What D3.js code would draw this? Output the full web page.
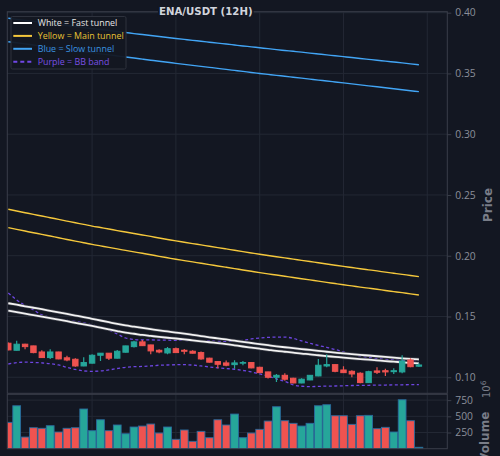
<!DOCTYPE html>
<html><head><meta charset="utf-8">
<script src="https://cdn.jsdelivr.net/npm/d3@7"></script>
<style>html,body{margin:0;padding:0;background:#131722;}svg{display:block}</style>
</head><body><svg id="c" width="500" height="456"></svg>
<script>
// ---- DATA ----
const candleIndex = d3.range(50);
const openP  = [.1280,.1222,.1272,.1258,.1208,.1162,.1208,.1160,.1148,.1093,.1116,.1181,.1198,.1157,.1206,.1252,.1291,.1266,.1222,.1200,.1235,.1222,.1214,.1203,.1157,.1129,.1118,.1104,.1116,.1121,.1082,.1044,.1000,.1016,.0992,.0953,.0978,.1011,.1093,.1104,.1060,.1049,.1033,.0956,.1052,.1054,.1046,.1044,.1142,.1091];
const highP  = [.1285,.1301,.1275,.1260,.1222,.1231,.1210,.1178,.1157,.1165,.1189,.1200,.1200,.1225,.1260,.1301,.1307,.1268,.1231,.1249,.1244,.1233,.1222,.1211,.1160,.1132,.1137,.1140,.1134,.1124,.1087,.1046,.1027,.1033,.0995,.0992,.1018,.1151,.1189,.1107,.1091,.1058,.1041,.1054,.1082,.1071,.1074,.1181,.1157,.1116];
const lowP   = [.1222,.1220,.1231,.1198,.1160,.1151,.1148,.1132,.1087,.1091,.1114,.1134,.1142,.1155,.1204,.1244,.1258,.1189,.1198,.1189,.1200,.1189,.1196,.1145,.1122,.1074,.1091,.1071,.1099,.1074,.1036,.0989,.0961,.0972,.0950,.0950,.0975,.1008,.1082,.1041,.1036,.1000,.0951,.0953,.1027,.1011,.1027,.1033,.1082,.1087];
const closeP = [.1225,.1272,.1252,.1203,.1162,.1208,.1151,.1142,.1093,.1121,.1181,.1198,.1157,.1214,.1258,.1291,.1260,.1217,.1208,.1235,.1203,.1214,.1198,.1151,.1124,.1107,.1099,.1118,.1121,.1077,.1038,.1000,.1016,.0984,.0953,.0984,.1016,.1099,.1104,.1049,.1038,.1027,.0956,.1046,.1041,.1044,.1054,.1134,.1087,.1101];
const volumeM = [407,663,180,324,315,355,258,315,324,613,278,447,278,366,231,335,350,381,242,335,145,289,114,268,170,447,366,535,170,242,299,427,648,432,392,350,392,663,679,509,509,376,509,515,309,330,258,756,432,22];

const fastUpper = [.1609,.1597,.1584,.1572,.1560,.1547,.1534,.1521,.1508,.1495,.1481,.1467,.1453,.1439,.1426,.1416,.1406,.1396,.1386,.1377,.1368,.1359,.1349,.1339,.1329,.1320,.1311,.1301,.1291,.1282,.1273,.1264,.1255,.1247,.1240,.1232,.1225,.1217,.1210,.1203,.1196,.1190,.1184,.1179,.1173,.1167,.1161,.1156,.1151,.1147];
const fastLower = [.1548,.1536,.1523,.1511,.1499,.1487,.1474,.1461,.1448,.1435,.1422,.1408,.1394,.1380,.1367,.1358,.1348,.1340,.1332,.1325,.1319,.1312,.1304,.1296,.1288,.1281,.1273,.1263,.1253,.1244,.1235,.1226,.1217,.1210,.1203,.1195,.1189,.1181,.1174,.1168,.1161,.1155,.1150,.1145,.1139,.1133,.1128,.1123,.1118,.1114];
const mainUpper = [.2382,.2368,.2354,.2340,.2327,.2313,.2299,.2285,.2271,.2258,.2244,.2232,.2220,.2207,.2195,.2183,.2171,.2159,.2146,.2134,.2122,.2111,.2100,.2089,.2078,.2067,.2056,.2045,.2034,.2023,.2012,.2002,.1992,.1982,.1972,.1962,.1952,.1942,.1932,.1922,.1912,.1903,.1893,.1884,.1875,.1865,.1856,.1847,.1837,.1828];
const mainLower = [.2231,.2217,.2203,.2189,.2176,.2162,.2148,.2134,.2120,.2107,.2093,.2081,.2069,.2056,.2044,.2032,.2020,.2008,.1995,.1983,.1971,.1960,.1949,.1938,.1927,.1916,.1905,.1894,.1883,.1872,.1861,.1851,.1841,.1831,.1821,.1811,.1801,.1791,.1781,.1771,.1761,.1752,.1742,.1733,.1724,.1714,.1705,.1696,.1686,.1677];
const slowUpper = [.3954,.3945,.3937,.3928,.3920,.3911,.3903,.3894,.3886,.3877,.3869,.3861,.3853,.3845,.3837,.3828,.3820,.3812,.3804,.3796,.3788,.3780,.3772,.3765,.3757,.3749,.3742,.3734,.3726,.3719,.3711,.3704,.3696,.3689,.3682,.3675,.3667,.3660,.3653,.3645,.3638,.3631,.3623,.3616,.3609,.3601,.3594,.3587,.3579,.3572];
const slowLower = [.3761,.3752,.3743,.3734,.3724,.3715,.3706,.3697,.3688,.3679,.3670,.3661,.3653,.3644,.3635,.3627,.3618,.3609,.3600,.3592,.3583,.3575,.3566,.3558,.3550,.3542,.3533,.3525,.3517,.3508,.3500,.3492,.3484,.3477,.3469,.3461,.3453,.3445,.3438,.3430,.3422,.3414,.3406,.3398,.3390,.3382,.3374,.3366,.3358,.3350];
const bbUpper = [.1694,.1636,.1591,.1554,.1513,.1492,.1476,.1467,.1459,.1447,.1430,.1414,.1389,.1356,.1323,.1311,.1307,.1307,.1306,.1305,.1304,.1303,.1302,.1300,.1299,.1295,.1295,.1295,.1303,.1315,.1323,.1328,.1330,.1330,.1320,.1299,.1279,.1262,.1246,.1229,.1208,.1192,.1175,.1163,.1155,.1146,.1142,.1140,.1138,.1137];
const bbLower = [.1109,.1120,.1124,.1122,.1118,.1112,.1101,.1081,.1064,.1052,.1049,.1052,.1060,.1072,.1082,.1087,.1089,.1093,.1099,.1101,.1103,.1104,.1100,.1093,.1085,.1078,.1072,.1066,.1056,.1044,.1027,.1011,.0986,.0966,.0937,.0926,.0923,.0925,.0927,.0928,.0930,.0932,.0933,.0934,.0935,.0936,.0937,.0938,.0939,.0939];

const priceTicks = [0.10,0.15,0.20,0.25,0.30,0.35,0.40];
const volumeTicks = [250,500,750];
const xGridTicks = [10,20,30,40,50];
const legendItems = [
  {label:"White = Fast tunnel", color:"#ffffff", text:"#e6e6e6", dash:null},
  {label:"Yellow = Main tunnel", color:"#f5c83c", text:"#e8c234", dash:null},
  {label:"Blue = Slow tunnel", color:"#42a5f5", text:"#3a93e0", dash:null},
  {label:"Purple = BB band", color:"#7148e6", text:"#7a4fe3", dash:"4,3"}
];
const titleText = "ENA/USDT (12H)";

// ---- LAYOUT ----
const BG = "#131722", GRID = "#232834", BORDER = "#3a3e4a", TICK = "#8b8f9a";
const UP = "#26a69a", DOWN = "#ef5350";
const L = 7.3, R = 447.3, PT = 11.7, PB = 393.3, VT = 394.3, VB = 448.7;

const svg = d3.select("#c");
svg.append("rect").attr("width",500).attr("height",456).attr("fill",BG);

const x = d3.scaleLinear().domain([-0.12, 52.39]).range([L, R]);
const yP = d3.scaleLinear().domain([0.0868, 0.4008]).range([PB, PT]);
const yV = d3.scaleLinear().domain([0, 840]).range([VB, VT]);
const step = x(1) - x(0);

const defs = svg.append("defs");
defs.append("clipPath").attr("id","cp").append("rect").attr("x",L).attr("y",PT).attr("width",R-L).attr("height",PB-PT);
defs.append("clipPath").attr("id","cv").append("rect").attr("x",L).attr("y",VT).attr("width",R-L).attr("height",VB-VT);

// grids
const gp = svg.append("g");
gp.selectAll("line.h").data(priceTicks).join("line")
  .attr("x1",L).attr("x2",R).attr("y1",d=>yP(d)).attr("y2",d=>yP(d)).attr("stroke",GRID);
gp.selectAll("line.v").data(xGridTicks).join("line")
  .attr("x1",d=>x(d)).attr("x2",d=>x(d)).attr("y1",PT).attr("y2",PB).attr("stroke",GRID);
const gv = svg.append("g");
gv.selectAll("line.h").data(volumeTicks).join("line")
  .attr("x1",L).attr("x2",R).attr("y1",d=>yV(d)).attr("y2",d=>yV(d)).attr("stroke",GRID);
gv.selectAll("line.v").data(xGridTicks).join("line")
  .attr("x1",d=>x(d)).attr("x2",d=>x(d)).attr("y1",VT).attr("y2",VB).attr("stroke",GRID);

// price panel
const pp = svg.append("g").attr("clip-path","url(#cp)");
const line = arr => d3.line().x((d,i)=>x(i)).y(d=>yP(d)).curve(d3.curveMonotoneX)(arr);
[[slowUpper,"#42a5f5",1.4],[slowLower,"#42a5f5",1.4],[mainUpper,"#f5c83c",1.4],[mainLower,"#f5c83c",1.4]].forEach(([a,c,w])=>{
  pp.append("path").attr("d",line(a)).attr("fill","none").attr("stroke",c).attr("stroke-width",w);
});
[bbUpper,bbLower].forEach(a=>{
  pp.append("path").attr("d",line(a)).attr("fill","none").attr("stroke","#6e46e2").attr("stroke-width",1.3).attr("stroke-dasharray","3,2.5");
});
[fastUpper,fastLower].forEach(a=>{
  pp.append("path").attr("d",line(a)).attr("fill","none").attr("stroke","#3a3d47").attr("stroke-width",3.2);
  pp.append("path").attr("d",line(a)).attr("fill","none").attr("stroke","#f2f2f2").attr("stroke-width",1.8);
});
const bodyW = 5.4;
const cg = pp.append("g");
candleIndex.forEach(i=>{
  const up = closeP[i] >= openP[i];
  const col = up ? UP : DOWN;
  cg.append("line").attr("x1",x(i)).attr("x2",x(i)).attr("y1",yP(highP[i])).attr("y2",yP(lowP[i])).attr("stroke",col).attr("stroke-width",1.2);
  const top = yP(Math.max(openP[i],closeP[i])), bot = yP(Math.min(openP[i],closeP[i]));
  cg.append("rect").attr("x",x(i)-bodyW/2).attr("y",top).attr("width",bodyW).attr("height",Math.max(0.6,bot-top))
    .attr("fill",col).attr("stroke",col).attr("stroke-width",1);
});

// volume panel
const vp = svg.append("g").attr("clip-path","url(#cv)");
vp.selectAll("rect").data(candleIndex).join("rect")
  .attr("x",i=>x(i)-step/2+0.3).attr("width",step-0.6)
  .attr("y",i=>yV(volumeM[i])).attr("height",i=>yV(0)-yV(volumeM[i]))
  .attr("fill",i=>closeP[i]>=openP[i]?UP:DOWN)
  .attr("stroke","#2a6a9c").attr("stroke-width",0.9);

// frames
svg.append("rect").attr("x",L).attr("y",PT).attr("width",R-L).attr("height",PB-PT).attr("fill","none").attr("stroke",BORDER);
svg.append("rect").attr("x",L).attr("y",VT).attr("width",R-L).attr("height",VB-VT).attr("fill","none").attr("stroke",BORDER);

// axes
const fontT = "'Open Sans', sans-serif";
const ax = svg.append("g").attr("transform",`translate(${R},0)`)
  .call(d3.axisRight(yP).tickValues(priceTicks).tickFormat(d3.format(".2f")).tickSize(4).tickPadding(4));
const av = svg.append("g").attr("transform",`translate(${R},0)`)
  .call(d3.axisRight(yV).tickValues(volumeTicks).tickFormat(d3.format("d")).tickSize(4).tickPadding(4));
[ax,av].forEach(a=>{
  a.select(".domain").remove();
  a.selectAll(".tick line").attr("stroke",BORDER);
  a.selectAll(".tick text").attr("fill",TICK).style("font-family",fontT).style("font-size","10.3px");
});

const AT = "#797d88";
svg.append("text").attr("transform","translate(491.5,205) rotate(-90)").attr("text-anchor","middle")
  .attr("fill",AT).style("font-family","'DejaVu Sans', sans-serif").style("font-weight","bold").style("font-size","12px").text("Price");
svg.append("text").attr("transform","translate(488.5,411.7) rotate(-90)").attr("text-anchor","end")
  .attr("fill",AT).style("font-family","'DejaVu Sans', sans-serif").style("font-weight","bold").style("font-size","12px").text("Volume");
const ex = svg.append("text").attr("transform","translate(489.5,398) rotate(-90)").attr("text-anchor","start")
  .attr("fill",AT).style("font-family","'DejaVu Sans', sans-serif").style("font-size","10px");
ex.append("tspan").text("10");
ex.append("tspan").attr("dy","-4").style("font-size","7.5px").text("6");

// title
const tg = svg.append("g");
const tt = tg.append("text").attr("x",205.8).attr("y",15).attr("text-anchor","middle")
  .attr("fill","#d1d4dc").style("font-family","'DejaVu Sans', sans-serif").style("font-weight","bold").style("font-size","10.2px").text(titleText);
const bb = tt.node().getBBox();
tg.insert("rect","text").attr("x",bb.x-1).attr("y",bb.y).attr("width",bb.width+2).attr("height",bb.height).attr("fill",BG);

// legend
const lg = svg.append("g");
lg.append("rect").attr("x",11).attr("y",16.5).attr("width",115).attr("height",52.5).attr("rx",1.5)
  .attr("fill",BG).attr("fill-opacity",0.95).attr("stroke","#2e323d").attr("stroke-width",1);
legendItems.forEach((d,k)=>{
  const yy = 23 + k*12.9;
  lg.append("line").attr("x1",13.3).attr("x2",32).attr("y1",yy).attr("y2",yy)
    .attr("stroke",d.color).attr("stroke-width",2).attr("stroke-dasharray",d.dash);
  lg.append("text").attr("x",37.7).attr("y",yy).attr("dy","0.35em").attr("fill",d.text)
    .style("font-family",fontT).style("font-size","8.9px").text(d.label);
});
</script></body></html>
